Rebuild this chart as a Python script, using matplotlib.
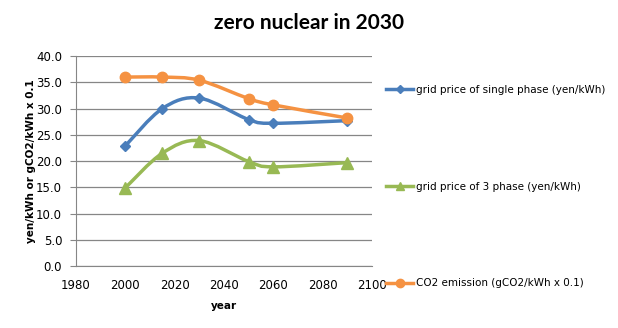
import numpy as np
import matplotlib
matplotlib.use("Agg")
import matplotlib.pyplot as plt
from matplotlib.path import Path
from matplotlib.patches import PathPatch
from matplotlib.lines import Line2D

years = [2000, 2015, 2030, 2050, 2060, 2090]
single_phase = [22.9, 30.0, 32.0, 27.9, 27.2, 27.7]
three_phase = [14.9, 21.5, 23.9, 19.9, 18.9, 19.7]
co2 = [36.0, 36.0, 35.4, 31.9, 30.7, 28.2]
labels = ["grid price of single phase (yen/kWh)",
          "grid price of 3 phase (yen/kWh)",
          "CO2 emission (gCO2/kWh x 0.1)"]
colors = ["#4A7EBB", "#98B954", "#F59242"]
markers = ["D", "^", "o"]
msizes = [5, 8, 7.5]

fig = plt.figure(figsize=(6.18, 3.28), dpi=100)
ax = fig.add_axes([0.123, 0.189, 0.479, 0.640])


def smooth_path(xs, ys, t=1/6):
    """Excel-style smoothed curve as cubic Bezier segments through data points."""
    pts = list(zip(xs, ys))
    verts = [pts[0]]
    codes = [Path.MOVETO]
    n = len(pts)
    for i in range(n - 1):
        p0 = pts[i - 1] if i > 0 else pts[i]
        p1 = pts[i]
        p2 = pts[i + 1]
        p3 = pts[i + 2] if i + 2 < n else pts[i + 1]
        c1 = (p1[0] + (p2[0] - p0[0]) * t, p1[1] + (p2[1] - p0[1]) * t)
        c2 = (p2[0] - (p3[0] - p1[0]) * t, p2[1] - (p3[1] - p1[1]) * t)
        verts += [c1, c2, p2]
        codes += [Path.CURVE4] * 3
    return Path(verts, codes)


series = [single_phase, three_phase, co2]
for vals, col, mk, ms in zip(series, colors, markers, msizes):
    patch = PathPatch(smooth_path(years, vals), facecolor="none",
                      edgecolor=col, lw=2.5, zorder=3, capstyle="round")
    ax.add_patch(patch)
    ax.plot(years, vals, linestyle="none", marker=mk, ms=ms, color=col,
            markeredgecolor=col, zorder=4)

ax.set_xlim(1980, 2100)
ax.set_ylim(0, 40)
ax.set_xticks(np.arange(1980, 2101, 20))
ax.set_xticklabels(["1980", "2000", "2020", "2040", "2060", "2080", "2100"])
ax.set_yticks(np.arange(0, 40.1, 5))
ax.set_yticklabels([f"{v:.1f}" for v in np.arange(0, 40.1, 5)])
ax.tick_params(axis="both", labelsize=8.5, colors="#000000", length=4,
               color="#868686", direction="out")
ax.tick_params(axis="y", pad=6)
ax.tick_params(axis="x", length=0, pad=9)
ax.grid(axis="y", color="#868686", lw=0.9)
ax.set_axisbelow(True)
for s in ["top", "right"]:
    ax.spines[s].set_visible(False)
for s in ["left", "bottom"]:
    ax.spines[s].set_color("#868686")
ax.set_xlabel("year", fontsize=7.5, fontweight="bold", labelpad=7)
ax.set_ylabel("yen/kWh or gCO2/kWh x 0.1", fontsize=7.5, fontweight="bold",
              labelpad=0)

fig.text(0.5, 0.93, "zero nuclear in 2030", ha="center", va="center",
         fontsize=15, fontweight="bold", family="Lato")

handles = [Line2D([], [], color=c, lw=2.5, marker=m, ms=s * 0.8)
           for c, m, s in zip(colors, markers, msizes)]
fig.legend(handles, labels, loc="upper left", bbox_to_anchor=(0.618, 0.755),
           frameon=False, fontsize=7.5, handlelength=2.6, handletextpad=0.3,
           labelspacing=8.35, borderaxespad=0)

fig.savefig("out.png", dpi=100, facecolor="white")
